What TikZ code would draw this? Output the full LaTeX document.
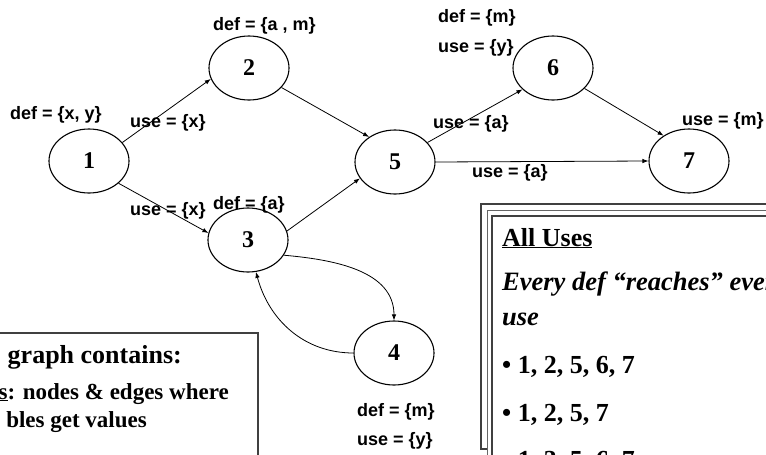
\documentclass[tikz,border=0pt]{standalone}
\usepackage{fontspec}
\setmainfont{Liberation Serif}
\newfontfamily\arialfont{Liberation Sans}
\usepackage{tikz}
\usetikzlibrary{arrows.meta, shapes.geometric, positioning}

\begin{document}
\begin{tikzpicture}[x=1pt, y=1pt,
		vertex/.style={draw, ellipse, line width=1.1pt, minimum width=80pt, minimum height=64pt, inner sep=0pt, font=\fontsize{24}{28}\selectfont\bfseries},
		flow/.style={-{Latex[length=6pt, width=4.5pt]}, line width=0.8pt},
		lbl/.style={anchor=base west, inner sep=0pt, font=\arialfont\fontsize{18}{21}\selectfont\bfseries},
		txt/.style={anchor=base west, inner sep=0pt, font=\fontsize{26}{30}\selectfont\bfseries},
		subtxt/.style={anchor=base east, inner sep=0pt, font=\fontsize{23}{27}\selectfont\bfseries},
		frame/.style={draw=black!75, line width=1.4pt}]
	\path[use as bounding box] (0,0) rectangle (766,-455);
	\clip (0,0) rectangle (766,-455);

	% flow graph
	\foreach \n/\x/\y in {1/89/161, 2/249/68, 3/248/240, 4/394/353, 5/395/162, 6/553/68, 7/689/161}{
		\node[vertex] (n\n) at (\x,-\y) {\n};
	}
	\foreach \s/\sa/\t/\ta in {1/29/2/196, 1/-37/3/170, 2/-31/5/136, 3/13/5/205, 5/31/6/215, 5/0/7/180, 6/-33/7/135}{
		\draw[flow] (n\s.\sa) -- (n\t.\ta);
	}
	% loop between 3 and 4
	\draw[flow] (n3.-23) to [out=-5, in=90] (n4.90);
	\draw[flow] (n4.180) to [out=180, in=-75] (n3.-76);

	% def/use labels:
	\node[lbl] (d1) at (10,-119) {def = \{x, y\}};
	\node[lbl] (u12) at (130,-127) {use = \{x\}};
	\node[lbl] (u13) at (130,-215) {use = \{x\}};
	\node[lbl] (d2) at (213,-30) {def = \{a , m\}};
	\node[lbl] (d3) at (213,-209) {def = \{a\}};
	\node[lbl] (d6) at (438,-23) {def = \{m\}};
	\node[lbl] (u6) at (438,-52) {use = \{y\}};
	\node[lbl] (u56) at (433,-128) {use = \{a\}};
	\node[lbl] (u57) at (472,-177) {use = \{a\}};
	\node[lbl] (u7) at (682,-125) {use = \{m\}};
	\node[lbl] (d4) at (357,-416) {def = \{m\}};
	\node[lbl] (u4) at (357,-445) {use = \{y\}};

	% left text box
	\draw[frame, line width=1.2pt] (-10,-333) rectangle (258,-470);
	\node[subtxt, font=\fontsize{26}{30}\selectfont\bfseries] (gc) at (182,-363) {graph contains:};
	\node[subtxt] (defs1) at (229,-399) {\underline{s}: nodes \& edges where};
	\node[subtxt] (defs2) at (147,-427) {bles get values};

	% right text box, triple frame
	\draw[frame] (481,-204) rectangle (790,-449);
	\draw[draw=black!60, line width=0.8pt, fill=white] (487,-210) rectangle (790,-470);
	\draw[frame] (492,-216) rectangle (790,-470);
	\node[txt] (au) at (502,-246) {\underline{All Uses}};
	\node[txt, font=\fontsize{26.5}{30}\selectfont\bfseries\itshape] (ev) at (502,-290) {Every def “reaches” every};
	\node[txt, font=\fontsize{26.5}{30}\selectfont\bfseries\itshape] (us) at (502,-325) {use};
	\node[txt] (p1) at (502,-373) {• 1, 2, 5, 6, 7};
	\node[txt] (p2) at (502,-421) {• 1, 2, 5, 7};
	\node[txt] (p3) at (502,-468) {• 1, 3, 5, 6, 7};
\end{tikzpicture}
\end{document}
